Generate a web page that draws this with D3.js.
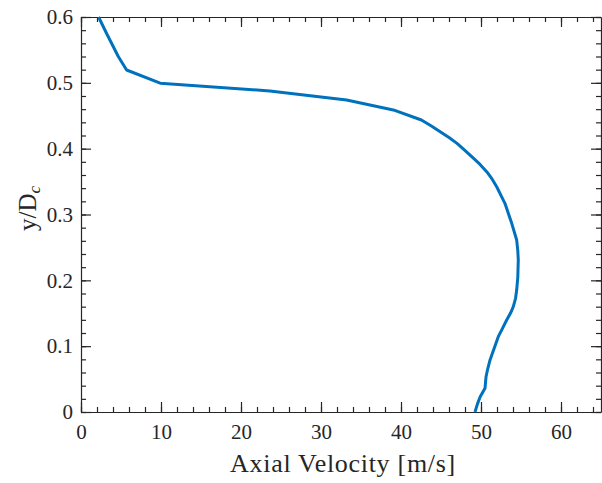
<!DOCTYPE html>
<html><head><meta charset="utf-8">
<script src="https://cdn.jsdelivr.net/npm/d3@7"></script>
<style>body{margin:0;background:#fff}svg{display:block}</style>
</head><body>
<script>
// Data: axial velocity profile (y/Dc vs velocity in m/s)
const yPos = [0, 0.012, 0.0232, 0.036, 0.0536, 0.066, 0.079, 0.097, 0.1144, 0.1271, 0.1398, 0.1499, 0.16, 0.1727, 0.1853, 0.205, 0.2308, 0.245, 0.2612, 0.2866, 0.317, 0.3422, 0.3536, 0.365, 0.3764, 0.3878, 0.3979, 0.408, 0.417, 0.4258, 0.4347, 0.4435, 0.4588, 0.4739, 0.4876, 0.4995, 0.5195, 0.54, 0.575, 0.6];
const velocity = [49.25, 49.55, 49.9, 50.5, 50.63, 50.85, 51.13, 51.65, 52.16, 52.69, 53.21, 53.68, 54.04, 54.32, 54.46, 54.6, 54.66, 54.6, 54.46, 53.84, 52.99, 51.96, 51.4, 50.71, 49.85, 48.84, 47.95, 47.0, 46.0, 44.9, 43.75, 42.55, 39.04, 33.2, 23.6, 9.9, 5.7, 4.66, 3.2, 2.2];
const xTicks = [0, 10, 20, 30, 40, 50, 60];
const yTicks = [0, 0.1, 0.2, 0.3, 0.4, 0.5, 0.6];
const xMinor = d3.range(0, 65.01, 2);
const yMinor = d3.range(0, 0.601, 0.02);
const xLabel = "Axial Velocity [m/s]";

const W = 602, H = 483;
const m = {left: 81, right: 1, top: 17, bottom: 71};
const svg = d3.select("body").append("svg").attr("width", W).attr("height", H);
const x = d3.scaleLinear().domain([0, 65]).range([m.left, W - m.right]);
const y = d3.scaleLinear().domain([0, 0.6]).range([H - m.bottom, m.top]);
const axCol = "#262626";
const font = "Liberation Serif";

function styleAxis(g, showText) {
  g.attr("font-family", font).attr("font-size", 21);
  g.selectAll("path").attr("stroke", axCol).attr("stroke-width", 1.2);
  g.selectAll("line").attr("stroke", axCol).attr("stroke-width", 1.2);
  g.selectAll("text").attr("fill", axCol).attr("font-family", font).attr("font-size", 21);
  if (!showText) g.selectAll("text").remove();
}

// minor ticks
svg.append("g").attr("transform", `translate(0,${y(0)})`)
  .call(d3.axisBottom(x).tickValues(xMinor).tickSize(-5).tickSizeOuter(0).tickFormat(""))
  .call(g => styleAxis(g, false));
svg.append("g").attr("transform", `translate(0,${y(0.6)})`)
  .call(d3.axisTop(x).tickValues(xMinor).tickSize(-5).tickSizeOuter(0).tickFormat(""))
  .call(g => styleAxis(g, false));
svg.append("g").attr("transform", `translate(${x(0)},0)`)
  .call(d3.axisLeft(y).tickValues(yMinor).tickSize(-5).tickSizeOuter(0).tickFormat(""))
  .call(g => styleAxis(g, false));
svg.append("g").attr("transform", `translate(${x(65)},0)`)
  .call(d3.axisRight(y).tickValues(yMinor).tickSize(-5).tickSizeOuter(0).tickFormat(""))
  .call(g => styleAxis(g, false));

// major ticks
const gx = svg.append("g").attr("transform", `translate(0,${y(0)})`)
  .call(d3.axisBottom(x).tickValues(xTicks).tickSize(-10).tickSizeOuter(0).tickPadding(12).tickFormat(d3.format("d")))
  .call(g => styleAxis(g, true));
gx.selectAll(".domain").remove();
svg.append("g").attr("transform", `translate(0,${y(0.6)})`)
  .call(d3.axisTop(x).tickValues(xTicks).tickSize(-10).tickSizeOuter(0).tickFormat(""))
  .call(g => { styleAxis(g, false); g.select(".domain").remove(); });
const gy = svg.append("g").attr("transform", `translate(${x(0)},0)`)
  .call(d3.axisLeft(y).tickValues(yTicks).tickSize(-10).tickSizeOuter(0).tickPadding(8).tickFormat(d => d === 0 ? "0" : d3.format(".1f")(d)))
  .call(g => styleAxis(g, true));
gy.selectAll(".domain").remove();
svg.append("g").attr("transform", `translate(${x(65)},0)`)
  .call(d3.axisRight(y).tickValues(yTicks).tickSize(-10).tickSizeOuter(0).tickFormat(""))
  .call(g => { styleAxis(g, false); g.select(".domain").remove(); });

// curve
const pts = yPos.map((v, i) => [velocity[i], v]);
svg.append("path").datum(pts)
  .attr("fill", "none").attr("stroke", "#0072BD").attr("stroke-width", 3)
  .attr("stroke-linejoin", "round")
  .attr("d", d3.line().x(d => x(d[0])).y(d => y(d[1])));

// labels
svg.append("text").attr("x", (x(0) + x(65)) / 2 + 2).attr("y", 472)
  .attr("text-anchor", "middle").attr("fill", axCol)
  .attr("font-family", font).attr("font-size", 26)
  .attr("letter-spacing", 0.7)
  .text(xLabel);

const yl = svg.append("text").attr("transform", `translate(36,${(y(0) + y(0.6)) / 2 - 6}) rotate(-90)`)
  .attr("text-anchor", "middle").attr("fill", axCol)
  .attr("font-family", font).attr("font-size", 25);
yl.append("tspan").text("y/D");
yl.append("tspan").text("c").attr("font-style", "italic").attr("font-size", 17).attr("dy", 4);
</script>
</body></html>
